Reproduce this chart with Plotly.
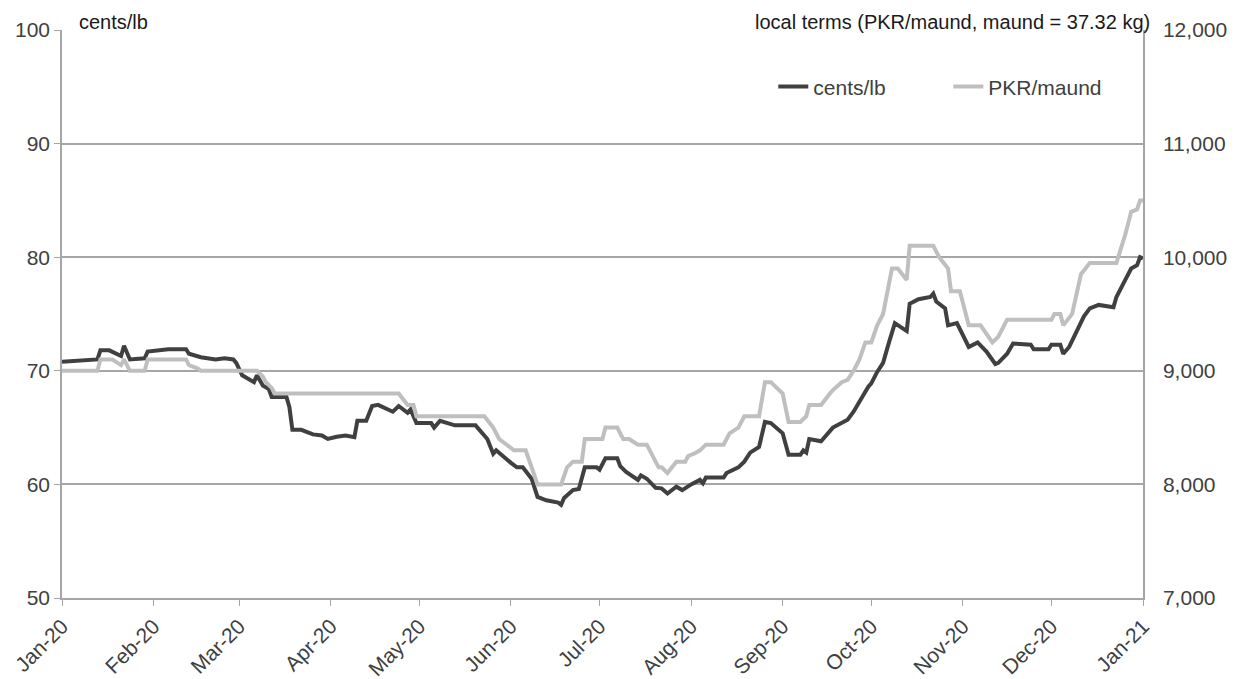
import pandas as pd
import plotly.graph_objects as go

# Day offsets from 1 Jan 2020 and values
cents_days = [0, 8, 12, 13, 16, 20, 21, 23, 28, 29, 34, 36, 42, 43, 47, 51, 52, 55, 58, 59,
              61, 65, 66, 68, 70, 71, 76, 77, 78, 81, 85, 88, 90, 93, 96, 99, 100, 103, 105, 107,
              112, 114, 117, 118, 120, 125, 126, 128, 133, 140, 144, 146, 147, 152, 154, 156, 159, 161, 164, 168,
              169, 170, 173, 175, 177, 181, 182, 184, 188, 189, 191, 195, 196, 198, 201, 203, 205, 208, 210, 213,
              216, 217, 218, 224, 225, 229, 231, 233, 236, 238, 240, 244, 246, 250, 251, 252, 253, 257, 261, 266,
              268, 273, 274, 276, 278, 280, 282, 286, 287, 290, 294, 295, 296, 299, 300, 303, 307, 310, 313, 316,
              317, 320, 322, 328, 329, 334, 335, 338, 339, 341, 343, 346, 348, 351, 356, 357, 360, 362, 364, 365, 366]
cents_values = [70.8, 70.9, 71.0, 71.8, 71.8, 71.3, 72.2, 71.0, 71.1, 71.7, 71.8, 71.9, 71.9, 71.5, 71.2, 71.1, 71.0, 71.1, 71.0, 70.7,
                69.6, 69.0, 69.6, 68.7, 68.4, 67.7, 67.7, 66.8, 64.8, 64.8, 64.4, 64.3, 64.0, 64.2, 64.3, 64.15, 65.6, 65.6, 66.9, 67.0,
                66.4, 66.9, 66.3, 66.6, 65.4, 65.4, 65.0, 65.6, 65.2, 65.2, 64.0, 62.7, 63.0, 61.9, 61.5, 61.5, 60.5, 58.9, 58.6, 58.4,
                58.2, 58.8, 59.5, 59.6, 61.5, 61.5, 61.3, 62.3, 62.3, 61.6, 61.1, 60.4, 60.8, 60.5, 59.7, 59.65, 59.2, 59.8, 59.5, 60.0,
                60.4, 60.1, 60.6, 60.6, 61.0, 61.5, 62.0, 62.8, 63.3, 65.5, 65.4, 64.5, 62.6, 62.6, 63.0, 62.8, 64.0, 63.8, 65.0, 65.7,
                66.4, 68.6, 68.9, 69.9, 70.7, 72.5, 74.2, 73.5, 75.9, 76.3, 76.5, 76.8, 76.1, 75.5, 74.0, 74.2, 72.1, 72.5, 71.7, 70.6,
                70.7, 71.5, 72.4, 72.3, 71.9, 71.9, 72.3, 72.3, 71.5, 72.1, 73.2, 74.8, 75.5, 75.8, 75.6, 76.5, 78.0, 79.0, 79.3, 80.0, 79.9]

pkr_days = [0, 12, 13, 17, 20, 21, 23, 28, 29, 42, 43, 46, 47, 66, 68, 69, 71, 72, 114, 117,
            119, 120, 143, 146, 148, 153, 157, 159, 161, 169, 171, 173, 176, 177, 183, 184, 188, 190, 192, 195,
            198, 202, 203, 205, 208, 211, 212, 214, 216, 218, 224, 226, 229, 231, 236, 238, 240, 244, 246, 250,
            252, 253, 257, 260, 261, 264, 266, 268, 270, 272, 274, 276, 278, 281, 283, 286, 287, 295, 297, 300,
            301, 304, 307, 311, 315, 317, 320, 335, 336, 338, 339, 342, 345, 348, 357, 360, 362, 364, 365, 366]
pkr_values = [9000, 9000, 9100, 9100, 9050, 9100, 9000, 9000, 9100, 9100, 9050, 9020, 9000, 9000, 8950, 8900, 8850, 8800, 8800, 8700,
              8700, 8600, 8600, 8500, 8400, 8300, 8300, 8150, 8000, 8000, 8150, 8200, 8200, 8400, 8400, 8500, 8500, 8400, 8400, 8350,
              8350, 8150, 8150, 8100, 8200, 8200, 8250, 8270, 8300, 8350, 8350, 8450, 8500, 8600, 8600, 8900, 8900, 8800, 8550, 8550,
              8600, 8700, 8700, 8800, 8830, 8900, 8920, 9000, 9100, 9250, 9250, 9400, 9500, 9900, 9900, 9800, 10100, 10100, 10000, 9900,
              9700, 9700, 9400, 9400, 9250, 9300, 9450, 9450, 9500, 9500, 9400, 9500, 9850, 9950, 9950, 10200, 10400, 10420, 10500, 10500]

month_ticks = pd.date_range("2020-01-01", "2021-01-01", freq="MS")
month_labels = [d.strftime("%b-%y") for d in month_ticks]

start = pd.Timestamp("2020-01-01")
cents_dates = [start + pd.Timedelta(days=d) for d in cents_days]
pkr_dates = [start + pd.Timedelta(days=d) for d in pkr_days]

FONT = "Liberation Sans, Arial, sans-serif"
TXT = "#404040"
GRID = "#a6a6a6"
FS = 21

fig = go.Figure()
fig.add_trace(go.Scatter(x=cents_dates, y=cents_values, name="cents/lb", mode="lines",
                         line=dict(color="#404040", width=4), yaxis="y"))
fig.add_trace(go.Scatter(x=pkr_dates, y=pkr_values, name="PKR/maund", mode="lines",
                         line=dict(color="#bfbfbf", width=4), yaxis="y2"))

fig.update_layout(
    width=1238, height=671,
    margin=dict(l=54, r=103, t=22, b=81, autoexpand=False),
    paper_bgcolor="white", plot_bgcolor="white",
    font=dict(family=FONT, size=FS, color=TXT),
    showlegend=True,
    legend=dict(orientation="h", x=0.658, y=0.9, xanchor="left", yanchor="middle",
                entrywidth=130, entrywidthmode="pixels",
                font=dict(size=FS, color=TXT), bgcolor="rgba(0,0,0,0)", traceorder="normal"),
    xaxis=dict(range=[start, pd.Timestamp("2021-01-01")], tickvals=month_ticks, ticktext=month_labels,
               tickangle=-45, showgrid=False, showline=True, linecolor=GRID, linewidth=1.5,
               ticks="outside", ticklen=6, tickcolor=GRID, tickfont=dict(size=FS, color=TXT), zeroline=False),
    yaxis=dict(range=[50, 100], dtick=10, showgrid=True, gridcolor=GRID, gridwidth=1.5,
               showline=True, linecolor=GRID, linewidth=1.5, ticks="outside", ticklen=6, tickcolor=GRID,
               tickfont=dict(size=FS, color=TXT), zeroline=False),
    yaxis2=dict(range=[7000, 12000], dtick=1000, overlaying="y", side="right", showgrid=False,
                showline=True, linecolor=GRID, linewidth=1.5, ticks="", tickformat=",",
                ticklabelstandoff=14,
                tickfont=dict(size=FS, color=TXT), zeroline=False),
    annotations=[
        dict(text="cents/lb", xref="paper", yref="paper", x=0.014, y=1.014, xanchor="left", yanchor="middle",
             showarrow=False, font=dict(size=20, color="#1a1a1a")),
        dict(text="local terms (PKR/maund, maund = 37.32 kg)", xref="paper", yref="paper", x=1.008, y=1.014,
             xanchor="right", yanchor="middle", showarrow=False, font=dict(size=20, color="#1a1a1a")),
    ],
)

fig.write_html("out.html")
